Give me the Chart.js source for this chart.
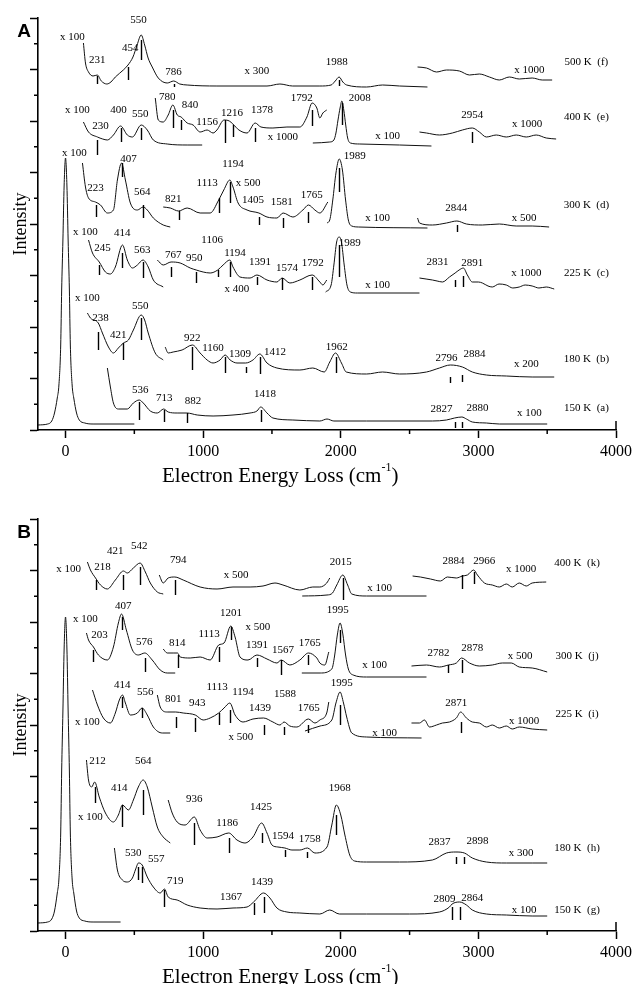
<!DOCTYPE html>
<html>
<head>
<meta charset="utf-8">
<script src="https://cdn.jsdelivr.net/npm/chart.js@4.4.1/dist/chart.umd.min.js"></script>
<style>
html,body{margin:0;padding:0;background:#fff;width:636px;height:984px;overflow:hidden}
.panel{position:absolute;left:0;width:636px;height:492px}
#pa{top:0}
#pb{top:492px}
</style>
</head>
<body>
<div class="panel" id="pa"><canvas id="ca" width="636" height="492"></canvas></div>
<div class="panel" id="pb"><canvas id="cb" width="636" height="492"></canvas></div>
<script>
// ---------- axis ticks ----------
const xMajor = [0, 1000, 2000, 3000, 4000];
const xMinor = [500, 1500, 2500, 3500];
const yUnit = 25.75;              // intensity per tick interval (arb. units)
const yMax = 16 * yUnit;

// ---------- Panel A spectra: [loss cm-1, intensity] ----------
const elasticA = [[-200,5],[-130,6],[-100,9],[-80,17],[-60,32],[-48,45],[-35,85],[-28,140],[-19,190],[-10,245],[0,272],[10,245],[19,190],[28,140],[35,85],[48,45],[60,32],[80,17],[100,10],[140,7],[200,6],[500,6]];

const fLow = [[130,387],[145,367],[167,358],[200,354],[231,355],[260,349],[300,346],[330,348],[362,353],[420,360],[454,365],[490,373],[520,385],[550,395],[575,385],[600,372],[630,363],[674,352],[739,347],[786,349],[830,346],[884,345],[1100,344],[1464,344],[1558,346],[1650,344],[1848,344],[1930,345],[1960,349],[1988,353],[2015,348],[2043,345],[2188,343],[2304,345],[2427,344],[2630,343]];
const fHigh = [[2558,363],[2623,362],[2696,358],[2768,360],[2862,359],[2935,355],[3007,356],[3080,353],[3152,350],[3225,353],[3297,351],[3391,352],[3464,350],[3536,350]];

const eLow = [[130,308],[167,298],[232,293],[270,291],[304,290],[348,295],[400,304],[449,295],[486,293],[550,305],[594,300],[638,290],[739,286],[884,285],[993,285]];
const eMid = [[652,332],[674,310],[710,308],[746,315],[780,325],[812,315],[840,313],[884,307],[927,305],[978,298],[1029,300],[1072,297],[1100,300],[1152,310],[1190,309],[1216,306],[1260,300],[1319,297],[1378,307],[1420,303],[1507,302],[1609,303],[1703,303],[1754,313],[1792,327],[1826,322],[1848,312],[1870,317],[1898,320]];
const eHigh1 = [[1797,287],[1920,288],[1950,290],[1965,297],[1980,310],[1995,322],[2008,329],[2022,320],[2036,305],[2050,292],[2070,287],[2138,286],[2427,285],[2659,284]];
const eHigh2 = [[2572,298],[2623,297],[2717,295],[2811,297],[2884,300],[2956,302],[3007,298],[3058,293],[3130,295],[3203,293],[3275,295],[3348,293],[3420,295],[3493,292],[3565,291]];

const dLow = [[123,267],[145,243],[167,232],[217,228],[254,225],[304,217],[348,220],[377,250],[407,267],[435,250],[471,227],[522,220],[564,223],[594,220],[638,212],[710,205],[761,203]];
const dMid = [[710,223],[761,222],[821,219],[884,222],[978,217],[1051,217],[1113,230],[1150,240],[1194,250],[1217,243],[1254,227],[1319,220],[1405,217],[1464,213],[1536,212],[1581,217],[1652,213],[1725,220],[1765,225],[1812,220],[1848,217],[1906,228]];
const dHigh1 = [[1900,207],[1920,210],[1942,230],[1965,257],[1989,271],[2012,260],[2035,230],[2055,210],[2080,204],[2130,203],[2630,202]];
const dHigh2 = [[2558,212],[2572,207],[2666,205],[2768,207],[2844,209],[2913,206],[3029,205],[3152,206],[3275,204],[3391,204],[3514,203]];

const cLow = [[167,190],[196,177],[245,168],[290,158],[326,156],[362,163],[414,185],[449,170],[486,162],[522,165],[563,170],[601,163],[638,150],[710,143]];
const cMid = [[667,170],[710,165],[767,168],[833,167],[906,162],[950,160],[1000,158],[1051,157],[1106,160],[1145,165],[1194,170],[1217,163],[1268,153],[1341,152],[1391,155],[1464,150],[1536,148],[1574,152],[1630,147],[1703,150],[1792,155],[1848,148],[1870,145],[1898,150]];
const cHigh1 = [[1890,138],[1930,145],[1950,165],[1970,188],[1989,193],[2005,188],[2025,165],[2045,145],[2070,138],[2120,137],[2572,137]];
const cHigh2 = [[2572,152],[2620,151],[2666,150],[2700,149],[2739,148],[2790,153],[2831,157],[2860,160],[2891,162],[2920,155],[2956,148],[3000,148],[3029,147],[3070,144],[3101,143],[3150,146],[3203,145],[3250,142],[3297,143],[3340,145],[3391,144],[3440,142],[3493,143],[3551,141]];

const bLow = [[159,117],[181,112],[238,107],[268,97],[312,83],[348,77],[384,82],[421,87],[457,90],[493,100],[550,115],[575,110],[601,97],[652,77],[710,70]];
const bHigh = [[724,83],[746,77],[782,78],[847,80],[922,85],[978,77],[1029,70],[1072,67],[1123,70],[1160,75],[1196,70],[1246,67],[1309,67],[1362,70],[1412,76],[1464,67],[1536,62],[1703,60],[1797,62],[1880,58],[1920,68],[1962,77],[2005,67],[2040,58],[2188,56],[2304,58],[2427,56],[2623,58],[2717,62],[2796,65],[2884,63],[2956,58],[3058,55],[3203,54],[3391,53],[3551,53]];

const aLow = [[304,62],[326,43],[348,27],[384,21],[449,21],[493,27],[536,30],[565,27],[616,19],[667,17],[713,21],[746,18],[811,17],[882,17],[957,15],[1072,14],[1217,15],[1341,17],[1391,19],[1418,23],[1464,17],[1507,12],[1652,10],[1848,9],[1900,11],[1950,9],[2188,9],[2666,9],[2768,10],[2827,12],[2880,13],[2913,11],[2956,8],[3058,7],[3152,6],[3500,6]];

// peak markers: [loss, low, high]
const marksA = [
  [231,346,354],[454,350,363],[550,370,390],[786,343,346],[1988,344,350],
  [230,275,290],[400,288,302],[550,290,302],[780,302,320],[840,300,310],[1156,287,310],[1216,293,305],[1378,288,302],[1792,304,320],[2008,305,327],[2954,287,298],
  [223,213,225],[407,253,267],[564,212,225],[821,210,219],[1113,217,232],[1194,227,248],[1405,205,213],[1581,202,212],[1765,207,218],[1989,238,262],[2844,198,205],
  [245,155,165],[414,162,177],[563,152,168],[767,153,163],[950,147,158],[1106,153,160],[1194,153,168],[1391,145,153],[1574,140,152],[1792,140,153],[1989,153,185],[2831,143,150],[2891,143,154],
  [238,80,98],[421,70,87],[550,90,112],[922,60,83],[1160,57,73],[1309,57,63],[1412,56,73],[1962,57,73],[2796,47,53],[2884,48,55],
  [536,10,28],[713,8,20],[882,7,17],[1418,8,20],[2827,2,8],[2880,2,8]
];

// annotations: [text, loss, intensity]
const labelsA = [
  ['x 100',50,393],['550',530,410],['454',470,382],['231',230,370],['786',785,358],['x 300',1390,359],['1988',1970,368],['x 1000',3370,360],
  ['780',740,333],['840',905,325],['x 100',87,320],['400',385,320],['550',543,316],['230',254,304],['1156',1029,308],['1216',1210,317],['1378',1427,320],['1792',1717,332],['x 1000',1580,293],['2008',2138,332],['x 100',2340,294],['2954',2956,315],['x 1000',3355,306],
  ['x 100',65,277],['407',457,271],['223',217,242],['564',558,238],['821',783,231],['1113',1029,247],['1194',1217,266],['x 500',1326,247],['1405',1362,230],['1581',1572,228],['1765',1790,235],['1989',2101,274],['x 100',2268,212],['2844',2840,222],['x 500',3333,212],
  ['x 100',145,198],['414',413,197],['245',268,182],['563',558,180],['767',783,175],['950',935,172],['1106',1065,190],['1194',1232,177],['1391',1413,168],['1574',1609,162],['x 400',1246,141],['1792',1797,167],['1989',2065,187],['x 100',2268,145],['2831',2703,168],['2891',2956,167],['x 1000',3348,157],
  ['x 100',159,132],['550',543,124],['238',254,112],['421',384,95],['922',920,92],['1160',1072,82],['1309',1268,76],['1412',1522,78],['1962',1971,83],['2796',2768,72],['2884',2971,76],['x 200',3348,66],
  ['536',543,40],['713',717,32],['882',927,29],['1418',1449,36],['2827',2732,21],['2880',2993,22],['x 100',3370,17]
];
const tempsA = [['500 K  (f)',3785,368],['400 K  (e)',3785,313],['300 K  (d)',3785,225],['225 K  (c)',3785,157],['180 K  (b)',3785,71],['150 K  (a)',3785,22]];

// ---------- Panel B spectra ----------
const elasticB = [[-200,8],[-130,9],[-100,12],[-80,20],[-60,38],[-48,52],[-35,98],[-28,160],[-19,220],[-10,283],[0,314],[10,283],[19,220],[28,160],[35,98],[48,52],[60,38],[80,20],[100,13],[140,10],[200,9],[400,9]];

const kLow = [[159,369],[181,361],[218,353],[254,346],[304,342],[362,351],[421,360],[449,358],[493,363],[542,368],[580,359],[616,348],[667,339],[710,337]];
const kMid = [[681,356],[710,348],[746,353],[794,354],[855,351],[978,344],[1101,342],[1217,344],[1341,344],[1435,345],[1522,348],[1580,346],[1703,341],[1797,344],[1848,344],[1898,348],[1920,353]];
const kHigh1 = [[1720,335],[1900,336],[1940,338],[1971,346],[2015,356],[2050,346],[2080,337],[2188,335],[2623,335]];
const kHigh2 = [[2522,355],[2579,354],[2652,352],[2724,350],[2775,354],[2840,353],[2884,355],[2920,356],[2966,361],[2993,356],[3044,348],[3101,346],[3152,344],[3203,347],[3246,344],[3297,348],[3348,345],[3391,348],[3493,349]];

const jLow = [[152,298],[167,291],[203,284],[239,276],[304,271],[348,284],[384,308],[407,317],[442,301],[486,281],[529,276],[576,278],[630,271],[688,261],[739,258],[797,258]];
const jMid = [[710,282],[739,278],[782,278],[814,278],[833,274],[906,273],[978,274],[1051,271],[1113,286],[1152,288],[1201,305],[1232,294],[1268,274],[1326,271],[1391,276],[1464,272],[1536,268],[1567,271],[1630,266],[1703,271],[1765,278],[1826,273],[1848,268],[1884,266],[1913,279]];
const jHigh1 = [[1717,258],[1850,258],[1935,262],[1955,275],[1975,296],[1995,308],[2015,297],[2035,276],[2055,262],[2090,256],[2188,254],[2623,254]];
const jHigh2 = [[2514,265],[2623,266],[2717,264],[2782,266],[2840,268],[2878,273],[2935,268],[3007,265],[3101,266],[3174,268],[3239,268],[3297,264],[3391,263],[3500,259]];

const iLow = [[196,241],[232,226],[275,213],[326,208],[362,218],[391,231],[414,236],[435,228],[471,216],[522,218],[556,223],[594,216],[638,204],[703,198],[761,198]];
const iMid = [[667,236],[688,224],[739,219],[801,219],[855,218],[943,216],[1000,211],[1051,213],[1113,218],[1152,223],[1194,228],[1232,216],[1290,209],[1362,212],[1439,213],[1507,209],[1558,206],[1588,209],[1630,205],[1681,204],[1765,212],[1812,208],[1848,211],[1898,218],[1913,229]];
const iHigh1 = [[1740,200],[1850,205],[1935,211],[1965,228],[1995,239],[2020,228],[2043,214],[2080,198],[2188,194],[2587,193]];
const iHigh2 = [[2514,208],[2572,208],[2608,211],[2645,204],[2696,206],[2739,208],[2790,209],[2840,213],[2871,219],[2913,213],[2956,209],[3007,208],[3058,204],[3101,206],[3152,203],[3203,205],[3246,202],[3297,204],[3391,202],[3500,201]];

const hLow = [[152,171],[167,151],[190,144],[212,149],[245,134],[290,118],[348,109],[384,116],[414,126],[457,121],[493,131],[529,144],[564,151],[594,144],[630,124],[667,104],[710,94],[761,88]];
const hHigh = [[746,131],[775,118],[811,109],[869,106],[936,114],[978,101],[1029,93],[1101,94],[1186,98],[1246,91],[1304,88],[1362,94],[1425,108],[1464,98],[1500,86],[1543,84],[1594,83],[1645,81],[1703,81],[1758,83],[1812,78],[1900,84],[1935,106],[1968,126],[2000,116],[2030,96],[2065,76],[2100,70],[2188,69],[2427,69],[2666,71],[2768,78],[2837,79],[2898,78],[2956,73],[3058,69],[3203,68],[3391,68],[3500,68]];

const gLow = [[355,83],[377,61],[413,51],[449,49],[486,53],[510,62],[530,68],[557,66],[594,54],[638,44],[688,38],[719,42],[746,34],[811,31],[884,26],[978,23],[1101,22],[1217,23],[1319,24],[1367,29],[1439,38],[1485,33],[1536,23],[1609,19],[1703,18],[1848,17],[1920,21],[1990,17],[2188,17],[2500,17],[2717,19],[2790,24],[2809,27],[2864,29],[2913,26],[2956,21],[3058,17],[3203,16],[3391,15],[3500,15]];

const marksB = [
  [218,341,351],[421,341,356],[542,346,364],[794,336,351],[2015,331,353],[2884,342,356],[2966,347,359],
  [203,269,281],[407,301,314],[576,259,273],[814,263,276],[1113,269,284],[1201,291,304],[1391,264,273],[1567,256,271],[1765,266,276],[1995,288,301],[2782,258,266],[2878,258,271],
  [414,223,234],[556,213,223],[801,203,214],[943,199,213],[1113,206,218],[1194,208,221],[1439,196,206],[1588,196,204],[1765,198,206],[1995,206,226],[2871,198,209],
  [212,128,144],[414,104,126],[564,116,141],[936,86,108],[1186,78,93],[1425,88,98],[1594,74,81],[1758,73,79],[1968,96,116],[2837,67,74],[2898,67,74],
  [530,51,64],[557,48,64],[719,24,41],[1367,16,28],[1439,18,34],[2809,11,24],[2864,11,24]
];

const labelsB = [
  ['x 100',22,362],['218',268,364],['421',362,380],['542',536,385],['794',819,371],['x 500',1239,356],['2015',2000,369],['x 100',2282,343],['2884',2819,370],['2966',3043,370],['x 1000',3311,362],
  ['x 100',145,312],['407',420,325],['203',246,296],['576',572,289],['814',812,288],['1113',1043,297],['1201',1203,318],['x 500',1398,304],['1391',1391,286],['1567',1580,281],['1765',1775,288],['1995',1978,321],['x 100',2246,266],['2782',2710,278],['2878',2956,283],['x 500',3304,275],
  ['414',413,246],['556',580,239],['1113',1101,244],['1194',1290,239],['1588',1594,237],['801',783,232],['943',957,228],['1439',1413,223],['1765',1768,223],['x 100',159,209],['x 500',1275,194],['1995',2007,248],['x 100',2319,198],['2871',2840,228],['x 1000',3333,210],
  ['212',232,170],['414',391,143],['564',565,170],['x 100',181,114],['936',935,132],['1186',1174,108],['1425',1420,124],['1594',1580,95],['1758',1775,92],['1968',1993,143],['2837',2717,89],['2898',2993,90],['x 300',3311,78],
  ['530',493,78],['557',659,72],['719',797,50],['1367',1203,34],['1439',1427,49],['2809',2753,32],['2864',2956,33],['x 100',3333,21]
];
const tempsB = [['400 K  (k)',3717,368],['300 K  (j)',3717,275],['225 K  (i)',3717,217],['180 K  (h)',3717,83],['150 K  (g)',3717,21]];

const SERIF = '"Liberation Serif", "Times New Roman", serif';

// Draws peak markers, annotations, minor ticks and axis titles on top of the spectra
function annotations(letter, marks, labels, temps) {
  return {
    id: 'annotations',
    afterDraw(chart) {
      const ctx = chart.ctx, ca = chart.chartArea;
      const x = chart.scales.x, y = chart.scales.y;
      ctx.save();
      ctx.strokeStyle = '#000';
      ctx.lineWidth = 1.5;
      xMinor.forEach(v => {
        const px = x.getPixelForValue(v);
        ctx.beginPath(); ctx.moveTo(px, ca.bottom); ctx.lineTo(px, ca.bottom + 4); ctx.stroke();
      });
      // closing bracket at the right end of the energy axis
      const xEnd = x.getPixelForValue(4000);
      ctx.beginPath(); ctx.moveTo(xEnd, ca.bottom); ctx.lineTo(xEnd, ca.bottom - 9); ctx.stroke();
      for (let k = 1; k < 16; k += 2) {
        const py = y.getPixelForValue(k * yUnit);
        ctx.beginPath(); ctx.moveTo(ca.left, py); ctx.lineTo(ca.left - 4, py); ctx.stroke();
      }
      ctx.lineWidth = 1.4;
      marks.forEach(([cm, lo, hi]) => {
        const px = Math.round(x.getPixelForValue(cm)) + 0.5;
        ctx.beginPath(); ctx.moveTo(px, y.getPixelForValue(lo)); ctx.lineTo(px, y.getPixelForValue(hi)); ctx.stroke();
      });
      ctx.fillStyle = '#000';
      ctx.font = '11px ' + SERIF;
      ctx.textAlign = 'center';
      ctx.textBaseline = 'middle';
      labels.forEach(([t, cm, v]) => ctx.fillText(t, x.getPixelForValue(cm), y.getPixelForValue(v)));
      temps.forEach(([t, cm, v]) => ctx.fillText(t, x.getPixelForValue(cm), y.getPixelForValue(v)));

      // y title
      ctx.save();
      ctx.translate(21, (ca.top + ca.bottom) / 2);
      ctx.rotate(-Math.PI / 2);
      ctx.font = '18px ' + SERIF;
      ctx.fillText('Intensity', 0, 0);
      ctx.restore();

      // x title with superscript
      const main = 'Electron Energy Loss (cm', sup = '-1', tail = ')';
      ctx.font = '21px ' + SERIF;
      const w1 = ctx.measureText(main).width, w3 = ctx.measureText(tail).width;
      ctx.font = '12px ' + SERIF;
      const w2 = ctx.measureText(sup).width;
      const cx = x.getPixelForValue(1560), ty = ca.bottom + 46;
      let sx = cx - (w1 + w2 + w3) / 2;
      ctx.textAlign = 'left';
      ctx.font = '21px ' + SERIF;
      ctx.fillText(main, sx, ty);
      ctx.font = '12px ' + SERIF;
      ctx.fillText(sup, sx + w1, ty - 8);
      ctx.font = '21px ' + SERIF;
      ctx.fillText(tail, sx + w1 + w2, ty);

      // panel letter
      ctx.font = 'bold 19px "Liberation Sans", Arial, sans-serif';
      ctx.textAlign = 'center';
      ctx.fillText(letter, 24, ca.top + 14);
      ctx.restore();
    }
  };
}

function makePanel(canvasId, letter, traces, marks, labels, temps, padTop, axisH) {
  const datasets = traces.map(t => ({
    data: t,
    showLine: true,
    borderColor: '#111',
    borderWidth: 1,
    pointRadius: 0,
    cubicInterpolationMode: 'monotone',
    fill: false
  }));
  const majorTickOpts = {
    display: true, drawOnChartArea: false, drawTicks: true,
    tickLength: 8, tickColor: '#000', tickWidth: 1.5
  };
  return new Chart(document.getElementById(canvasId), {
    type: 'scatter',
    data: { datasets },
    options: {
      responsive: false,
      animation: false,
      devicePixelRatio: 1,
      layout: { padding: { left: 0, right: 19, top: padTop, bottom: 0 } },
      plugins: { legend: { display: false }, tooltip: { enabled: false } },
      scales: {
        x: {
          type: 'linear', min: -200, max: 4000,
          afterBuildTicks: s => { s.ticks = xMajor.map(v => ({ value: v })); },
          afterFit: s => { s.height = axisH; },
          grid: majorTickOpts,
          border: { display: true, color: '#000', width: 1.6 },
          ticks: {
            color: '#000', font: { family: SERIF, size: 16 }, padding: 4,
            maxRotation: 0, autoSkip: false,
            callback: v => String(v)
          }
        },
        y: {
          type: 'linear', min: 0, max: yMax,
          afterBuildTicks: s => {
            const t = [];
            for (let k = 0; k <= 16; k += 2) t.push({ value: k * yUnit });
            s.ticks = t;
          },
          afterFit: s => { s.width = 38; },
          grid: majorTickOpts,
          border: { display: true, color: '#000', width: 1.6 },
          ticks: { display: false }
        }
      }
    },
    plugins: [annotations(letter, marks, labels, temps)]
  });
}

makePanel('ca', 'A',
  [elasticA, fLow, fHigh, eLow, eMid, eHigh1, eHigh2, dLow, dMid, dHigh1, dHigh2, cLow, cMid, cHigh1, cHigh2, bLow, bHigh, aLow],
  marksA, labelsA, tempsA, 18, 62);

makePanel('cb', 'B',
  [elasticB, kLow, kMid, kHigh1, kHigh2, jLow, jMid, jHigh1, jHigh2, iLow, iMid, iHigh1, iHigh2, hLow, hHigh, gLow],
  marksB, labelsB, tempsB, 27, 53);
</script>
</body>
</html>
